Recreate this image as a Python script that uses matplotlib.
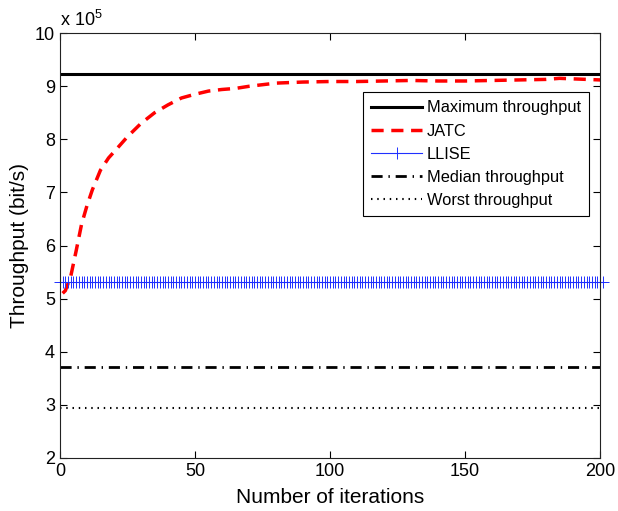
import numpy as np
import matplotlib
matplotlib.use("Agg")
import matplotlib.pyplot as plt

plt.rcParams['font.family'] = ['Liberation Sans', 'DejaVu Sans']

# throughput levels in bit/s
max_throughput = 9.24e5
llise_throughput = 5.31e5
median_throughput = 3.72e5
worst_throughput = 2.94e5

# JATC convergence over iterations
jatc_iter = [1, 2, 4, 6, 8, 10, 12, 15, 18, 21, 25, 30, 35, 40, 45, 50, 55, 60,
             65, 70, 80, 90, 100, 110, 120, 130, 140, 150, 160, 170, 180, 185,
             190, 200]
jatc_vals = [5.10, 5.15, 5.42, 5.90, 6.40, 6.75, 7.05, 7.42, 7.65, 7.82, 8.05,
             8.30, 8.50, 8.65, 8.78, 8.85, 8.91, 8.94, 8.96, 9.00, 9.06, 9.08,
             9.09, 9.09, 9.10, 9.11, 9.10, 9.10, 9.11, 9.12, 9.13, 9.15, 9.14,
             9.12]
jatc_vals = [v * 1e5 for v in jatc_vals]

scale = 1e5
iters = np.arange(0, 202)

fig = plt.figure(figsize=(6.18, 5.11), dpi=100)
ax = fig.add_axes([0.097, 0.104, 0.874, 0.831])

ax.plot([0, 200], [max_throughput / scale] * 2, color='black', lw=2.2,
        label='Maximum throughput')
ax.plot(jatc_iter, np.array(jatc_vals) / scale, color='red', lw=2.5,
        dashes=(3.5, 2.2), label='JATC')
ax.plot(iters, np.full(len(iters), llise_throughput / scale), color='#2030ff',
        lw=0.8, marker='+', markersize=8, mew=0.7, label='LLISE', clip_on=False)
ax.plot([0, 200], [median_throughput / scale] * 2, color='black', lw=2,
        dashes=(4, 2.1, 0.5, 2.1), label='Median throughput')
ax.plot([0, 200], [worst_throughput / scale] * 2, color='black', lw=1.5,
        dashes=(0.7, 2.3), label='Worst throughput')

ax.set_xlim(0, 200)
ax.set_ylim(2, 10)
ax.set_xticks([0, 50, 100, 150, 200])
ax.set_yticks(range(2, 11))
ax.tick_params(direction='in', top=True, right=True, labelsize=13,
               length=5, width=0.8)
for s in ax.spines.values():
    s.set_linewidth(0.8)
    s.set_color('#222222')

ax.set_xlabel('Number of iterations', fontsize=15, labelpad=6)
ax.set_ylabel('Throughput (bit/s)', fontsize=15)
ax.text(0.0, 1.008, r'x $\mathregular{10^5}$', transform=ax.transAxes,
        fontsize=13, ha='left', va='bottom')

leg = ax.legend(loc='upper right', bbox_to_anchor=(0.98, 0.861),
                borderaxespad=0, fontsize=11.8, fancybox=False, framealpha=1,
                edgecolor='black', handlelength=3.1, borderpad=0.5,
                labelspacing=0.5, handletextpad=0.3)
leg.get_frame().set_linewidth(0.8)

fig.savefig('out.png', dpi=100)
